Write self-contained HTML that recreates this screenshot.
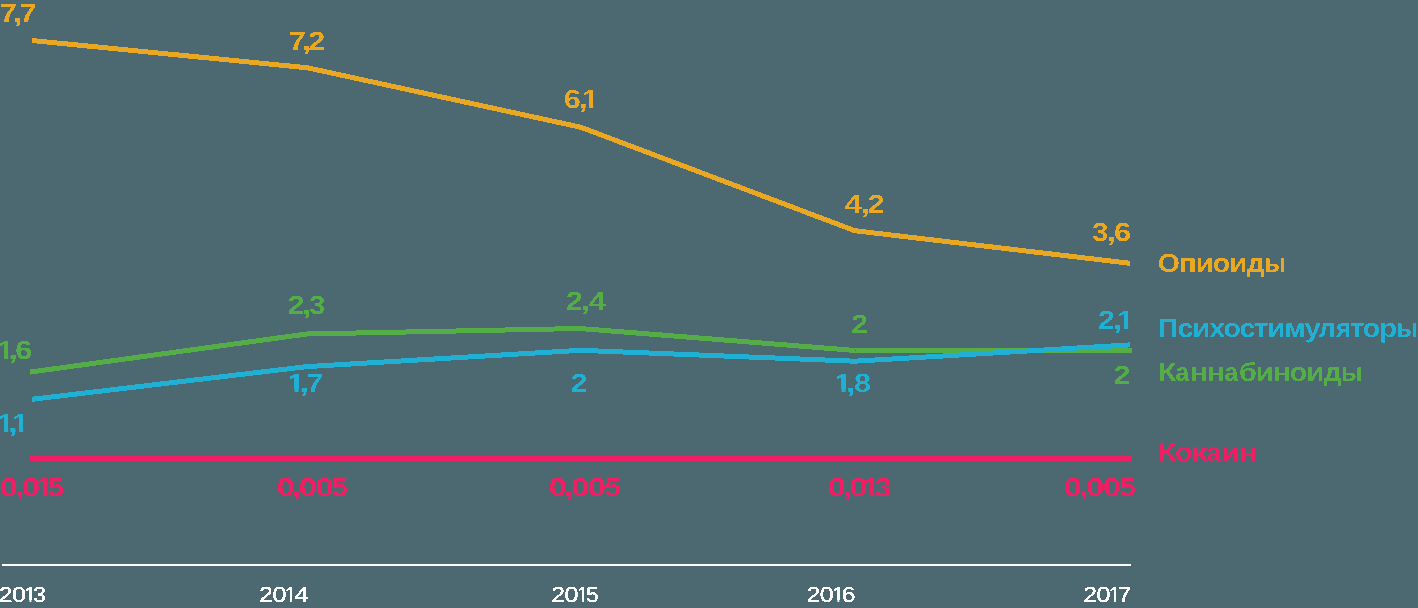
<!DOCTYPE html>
<html lang="ru"><head><meta charset="utf-8"><title>Chart</title>
<style>
html,body{margin:0;padding:0;background:#4c6971;}
body{width:1418px;height:608px;overflow:hidden;font-family:"Liberation Sans",sans-serif;}
svg{display:block;}
text{font-family:"Liberation Sans",sans-serif;text-rendering:geometricPrecision;}
</style></head><body>
<svg width="1418" height="608" viewBox="0 0 1418 608">
<defs><filter id="al" x="-5%" y="-30%" width="110%" height="160%" color-interpolation-filters="sRGB"><feComponentTransfer><feFuncA type="discrete" tableValues="0 1"/></feComponentTransfer></filter></defs>
<rect x="0" y="0" width="1418" height="608" fill="#4c6971"/>
<rect x="2" y="564" width="1129" height="2" fill="#fff"/>
<polyline points="30.0,458.4 1132.0,458.4" fill="none" stroke="#f01e63" stroke-width="5" stroke-linejoin="round" shape-rendering="crispEdges"/>
<polyline points="30.0,372.1 306.8,334.0 580.0,328.5 855.5,350.5 1132.0,350.5" fill="none" stroke="#54ad47" stroke-width="5" stroke-linejoin="round" shape-rendering="crispEdges"/>
<polyline points="32.0,399.3 307.0,366.6 580.5,350.3 855.0,361.2 1130.0,344.9" fill="none" stroke="#1fb0d3" stroke-width="5" stroke-linejoin="round" shape-rendering="crispEdges"/>
<polyline points="32.0,40.5 307.5,67.8 581.0,127.3 854.8,230.7 1130.0,263.3" fill="none" stroke="#e8a823" stroke-width="5" stroke-linejoin="round" shape-rendering="crispEdges"/>
<defs><clipPath id="c2"><path clip-rule="evenodd" d="M-20 -20H1440V640H-20ZM585.72 105.00H589.06V108.80H585.72ZM593.15 105.00H598.65V108.80H593.15Z"/></clipPath><clipPath id="c5"><path clip-rule="evenodd" d="M-20 -20H1440V640H-20ZM-1.80 356.00H4.07V359.80H-1.80ZM8.16 356.00H10.54V359.80H8.16Z"/></clipPath><clipPath id="c10"><path clip-rule="evenodd" d="M-20 -20H1440V640H-20ZM-1.80 429.00H4.07V432.80H-1.80ZM8.16 429.00H10.47V432.80H8.16ZM15.56 429.00H19.06V432.80H15.56ZM23.15 429.00H28.65V432.80H23.15Z"/></clipPath><clipPath id="c11"><path clip-rule="evenodd" d="M-20 -20H1440V640H-20ZM288.70 389.00H294.57V392.80H288.70ZM298.66 389.00H301.62V392.80H298.66Z"/></clipPath><clipPath id="c13"><path clip-rule="evenodd" d="M-20 -20H1440V640H-20ZM835.70 389.00H841.57V392.80H835.70ZM845.66 389.00H848.29V392.80H845.66Z"/></clipPath><clipPath id="c14"><path clip-rule="evenodd" d="M-20 -20H1440V640H-20ZM1120.08 326.00H1124.06V329.80H1120.08ZM1128.15 326.00H1133.65V329.80H1128.15Z"/></clipPath><clipPath id="c15"><path clip-rule="evenodd" d="M-20 -20H1440V640H-20ZM37.34 493.00H42.96V496.80H37.34ZM47.05 493.00H49.40V496.80H47.05Z"/></clipPath><clipPath id="c18"><path clip-rule="evenodd" d="M-20 -20H1440V640H-20ZM864.89 493.00H870.29V496.80H864.89ZM874.38 493.00H876.31V496.80H874.38Z"/></clipPath><clipPath id="c24"><path clip-rule="evenodd" d="M-20 -20H1440V640H-20ZM25.07 600.00H29.52V602.90H25.07ZM31.36 600.00H34.84V602.90H31.36Z"/></clipPath><clipPath id="c25"><path clip-rule="evenodd" d="M-20 -20H1440V640H-20ZM285.53 600.00H289.97V602.90H285.53ZM291.81 600.00H296.10V602.90H291.81Z"/></clipPath><clipPath id="c26"><path clip-rule="evenodd" d="M-20 -20H1440V640H-20ZM577.74 600.00H582.19V602.90H577.74ZM584.03 600.00H587.69V602.90H584.03Z"/></clipPath><clipPath id="c27"><path clip-rule="evenodd" d="M-20 -20H1440V640H-20ZM832.98 600.00H837.43V602.90H832.98ZM839.26 600.00H843.55V602.90H839.26Z"/></clipPath><clipPath id="c28"><path clip-rule="evenodd" d="M-20 -20H1440V640H-20ZM1109.63 600.00H1114.08V602.90H1109.63ZM1115.92 600.00H1120.21V602.90H1115.92Z"/></clipPath></defs>
<text y="22.00" font-size="26.15" font-weight="bold" fill="#e8a823" filter="url(#al)"><tspan x="-0.37" textLength="17.09" lengthAdjust="spacingAndGlyphs">7</tspan><tspan x="12.93" textLength="9.63" lengthAdjust="spacingAndGlyphs">,</tspan><tspan x="19.46" textLength="17.09" lengthAdjust="spacingAndGlyphs">7</tspan></text>
<text y="50.00" font-size="26.15" font-weight="bold" fill="#e8a823" filter="url(#al)"><tspan x="288.68" textLength="17.09" lengthAdjust="spacingAndGlyphs">7</tspan><tspan x="301.89" textLength="9.63" lengthAdjust="spacingAndGlyphs">,</tspan><tspan x="308.64" textLength="16.65" lengthAdjust="spacingAndGlyphs">2</tspan></text>
<text y="108.00" font-size="26.15" font-weight="bold" fill="#e8a823" clip-path="url(#c2)" filter="url(#al)"><tspan x="563.87" textLength="17.09" lengthAdjust="spacingAndGlyphs">6</tspan><tspan x="578.31" textLength="9.63" lengthAdjust="spacingAndGlyphs">,</tspan><tspan x="582.11" textLength="16.57" lengthAdjust="spacingAndGlyphs">1</tspan></text>
<text y="213.00" font-size="26.15" font-weight="bold" fill="#e8a823" filter="url(#al)"><tspan x="844.53" textLength="17.32" lengthAdjust="spacingAndGlyphs">4</tspan><tspan x="860.62" textLength="9.63" lengthAdjust="spacingAndGlyphs">,</tspan><tspan x="867.69" textLength="16.65" lengthAdjust="spacingAndGlyphs">2</tspan></text>
<text y="241.00" font-size="26.15" font-weight="bold" fill="#e8a823" filter="url(#al)"><tspan x="1092.24" textLength="16.02" lengthAdjust="spacingAndGlyphs">3</tspan><tspan x="1106.49" textLength="9.63" lengthAdjust="spacingAndGlyphs">,</tspan><tspan x="1114.02" textLength="17.09" lengthAdjust="spacingAndGlyphs">6</tspan></text>
<text y="359.00" font-size="26.15" font-weight="bold" fill="#54ad47" clip-path="url(#c5)" filter="url(#al)"><tspan x="-2.88" textLength="16.57" lengthAdjust="spacingAndGlyphs">1</tspan><tspan x="8.22" textLength="9.63" lengthAdjust="spacingAndGlyphs">,</tspan><tspan x="15.32" textLength="17.09" lengthAdjust="spacingAndGlyphs">6</tspan></text>
<text y="314.00" font-size="26.15" font-weight="bold" fill="#54ad47" filter="url(#al)"><tspan x="287.76" textLength="16.65" lengthAdjust="spacingAndGlyphs">2</tspan><tspan x="302.10" textLength="9.63" lengthAdjust="spacingAndGlyphs">,</tspan><tspan x="309.22" textLength="16.02" lengthAdjust="spacingAndGlyphs">3</tspan></text>
<text y="310.00" font-size="26.15" font-weight="bold" fill="#54ad47" filter="url(#al)"><tspan x="565.91" textLength="16.65" lengthAdjust="spacingAndGlyphs">2</tspan><tspan x="580.64" textLength="9.63" lengthAdjust="spacingAndGlyphs">,</tspan><tspan x="588.90" textLength="17.32" lengthAdjust="spacingAndGlyphs">4</tspan></text>
<text y="333.00" font-size="26.15" font-weight="bold" fill="#54ad47" filter="url(#al)"><tspan x="851.30" textLength="16.65" lengthAdjust="spacingAndGlyphs">2</tspan></text>
<text y="384.00" font-size="26.15" font-weight="bold" fill="#54ad47" filter="url(#al)"><tspan x="1113.73" textLength="16.65" lengthAdjust="spacingAndGlyphs">2</tspan></text>
<text y="432.00" font-size="26.15" font-weight="bold" fill="#1fb0d3" clip-path="url(#c10)" filter="url(#al)"><tspan x="-2.88" textLength="16.57" lengthAdjust="spacingAndGlyphs">1</tspan><tspan x="8.14" textLength="9.63" lengthAdjust="spacingAndGlyphs">,</tspan><tspan x="12.11" textLength="16.57" lengthAdjust="spacingAndGlyphs">1</tspan></text>
<text y="392.00" font-size="26.15" font-weight="bold" fill="#1fb0d3" clip-path="url(#c11)" filter="url(#al)"><tspan x="287.62" textLength="16.57" lengthAdjust="spacingAndGlyphs">1</tspan><tspan x="299.29" textLength="9.63" lengthAdjust="spacingAndGlyphs">,</tspan><tspan x="306.36" textLength="17.09" lengthAdjust="spacingAndGlyphs">7</tspan></text>
<text y="392.00" font-size="26.15" font-weight="bold" fill="#1fb0d3" filter="url(#al)"><tspan x="570.70" textLength="16.65" lengthAdjust="spacingAndGlyphs">2</tspan></text>
<text y="392.00" font-size="26.15" font-weight="bold" fill="#1fb0d3" clip-path="url(#c13)" filter="url(#al)"><tspan x="834.62" textLength="16.57" lengthAdjust="spacingAndGlyphs">1</tspan><tspan x="845.97" textLength="9.63" lengthAdjust="spacingAndGlyphs">,</tspan><tspan x="853.96" textLength="17.08" lengthAdjust="spacingAndGlyphs">8</tspan></text>
<text y="329.00" font-size="26.15" font-weight="bold" fill="#1fb0d3" clip-path="url(#c14)" filter="url(#al)"><tspan x="1097.91" textLength="16.65" lengthAdjust="spacingAndGlyphs">2</tspan><tspan x="1112.67" textLength="9.63" lengthAdjust="spacingAndGlyphs">,</tspan><tspan x="1117.11" textLength="16.57" lengthAdjust="spacingAndGlyphs">1</tspan></text>
<text y="496.00" font-size="26.15" font-weight="bold" fill="#f01e63" clip-path="url(#c15)" filter="url(#al)"><tspan x="-0.28" textLength="18.03" lengthAdjust="spacingAndGlyphs">0</tspan><tspan x="15.07" textLength="9.63" lengthAdjust="spacingAndGlyphs">,</tspan><tspan x="22.06" textLength="18.03" lengthAdjust="spacingAndGlyphs">0</tspan><tspan x="36.01" textLength="16.57" lengthAdjust="spacingAndGlyphs">1</tspan><tspan x="47.97" textLength="16.03" lengthAdjust="spacingAndGlyphs">5</tspan></text>
<text y="496.00" font-size="26.15" font-weight="bold" fill="#f01e63" filter="url(#al)"><tspan x="276.69" textLength="18.03" lengthAdjust="spacingAndGlyphs">0</tspan><tspan x="291.89" textLength="9.63" lengthAdjust="spacingAndGlyphs">,</tspan><tspan x="298.73" textLength="18.03" lengthAdjust="spacingAndGlyphs">0</tspan><tspan x="315.44" textLength="18.03" lengthAdjust="spacingAndGlyphs">0</tspan><tspan x="331.81" textLength="16.03" lengthAdjust="spacingAndGlyphs">5</tspan></text>
<text y="496.00" font-size="26.15" font-weight="bold" fill="#f01e63" filter="url(#al)"><tspan x="548.69" textLength="18.03" lengthAdjust="spacingAndGlyphs">0</tspan><tspan x="564.12" textLength="9.63" lengthAdjust="spacingAndGlyphs">,</tspan><tspan x="571.18" textLength="18.03" lengthAdjust="spacingAndGlyphs">0</tspan><tspan x="588.12" textLength="18.03" lengthAdjust="spacingAndGlyphs">0</tspan><tspan x="604.71" textLength="16.03" lengthAdjust="spacingAndGlyphs">5</tspan></text>
<text y="496.00" font-size="26.15" font-weight="bold" fill="#f01e63" clip-path="url(#c18)" filter="url(#al)"><tspan x="827.72" textLength="18.03" lengthAdjust="spacingAndGlyphs">0</tspan><tspan x="842.85" textLength="9.63" lengthAdjust="spacingAndGlyphs">,</tspan><tspan x="849.62" textLength="18.03" lengthAdjust="spacingAndGlyphs">0</tspan><tspan x="863.34" textLength="16.57" lengthAdjust="spacingAndGlyphs">1</tspan><tspan x="875.02" textLength="16.02" lengthAdjust="spacingAndGlyphs">3</tspan></text>
<text y="496.00" font-size="26.15" font-weight="bold" fill="#f01e63" filter="url(#al)"><tspan x="1063.69" textLength="18.03" lengthAdjust="spacingAndGlyphs">0</tspan><tspan x="1079.12" textLength="9.63" lengthAdjust="spacingAndGlyphs">,</tspan><tspan x="1086.18" textLength="18.03" lengthAdjust="spacingAndGlyphs">0</tspan><tspan x="1103.12" textLength="18.03" lengthAdjust="spacingAndGlyphs">0</tspan><tspan x="1119.71" textLength="16.03" lengthAdjust="spacingAndGlyphs">5</tspan></text>
<text y="271.90" font-size="26.15" font-weight="bold" fill="#e8a823" filter="url(#al)"><tspan x="1157.74" textLength="22.04" lengthAdjust="spacingAndGlyphs">О</tspan><tspan x="1178.68" textLength="17.88" lengthAdjust="spacingAndGlyphs">п</tspan><tspan x="1195.52" textLength="18.58" lengthAdjust="spacingAndGlyphs">и</tspan><tspan x="1212.88" textLength="17.42" lengthAdjust="spacingAndGlyphs">о</tspan><tspan x="1229.10" textLength="18.58" lengthAdjust="spacingAndGlyphs">и</tspan><tspan x="1246.84" textLength="17.88" lengthAdjust="spacingAndGlyphs">д</tspan><tspan x="1264.20" textLength="21.78" lengthAdjust="spacingAndGlyphs">ы</tspan></text>
<text y="336.80" font-size="26.15" font-weight="bold" fill="#1fb0d3" filter="url(#al)"><tspan x="1158.12" textLength="20.15" lengthAdjust="spacingAndGlyphs">П</tspan><tspan x="1177.54" textLength="15.85" lengthAdjust="spacingAndGlyphs">с</tspan><tspan x="1192.12" textLength="18.58" lengthAdjust="spacingAndGlyphs">и</tspan><tspan x="1209.64" textLength="15.48" lengthAdjust="spacingAndGlyphs">х</tspan><tspan x="1223.49" textLength="17.42" lengthAdjust="spacingAndGlyphs">о</tspan><tspan x="1239.52" textLength="15.85" lengthAdjust="spacingAndGlyphs">с</tspan><tspan x="1253.56" textLength="15.07" lengthAdjust="spacingAndGlyphs">т</tspan><tspan x="1267.03" textLength="18.58" lengthAdjust="spacingAndGlyphs">и</tspan><tspan x="1284.60" textLength="21.10" lengthAdjust="spacingAndGlyphs">м</tspan><tspan x="1304.55" textLength="16.22" lengthAdjust="spacingAndGlyphs">у</tspan><tspan x="1318.76" textLength="17.17" lengthAdjust="spacingAndGlyphs">л</tspan><tspan x="1336.00" textLength="15.22" lengthAdjust="spacingAndGlyphs">я</tspan><tspan x="1349.89" textLength="15.07" lengthAdjust="spacingAndGlyphs">т</tspan><tspan x="1362.65" textLength="17.42" lengthAdjust="spacingAndGlyphs">о</tspan><tspan x="1378.93" textLength="18.26" lengthAdjust="spacingAndGlyphs">р</tspan><tspan x="1396.20" textLength="21.78" lengthAdjust="spacingAndGlyphs">ы</tspan></text>
<text y="380.75" font-size="26.15" font-weight="bold" fill="#54ad47" filter="url(#al)"><tspan x="1157.98" textLength="18.39" lengthAdjust="spacingAndGlyphs">К</tspan><tspan x="1175.57" textLength="13.70" lengthAdjust="spacingAndGlyphs">а</tspan><tspan x="1190.04" textLength="18.22" lengthAdjust="spacingAndGlyphs">н</tspan><tspan x="1207.10" textLength="18.22" lengthAdjust="spacingAndGlyphs">н</tspan><tspan x="1224.44" textLength="13.70" lengthAdjust="spacingAndGlyphs">а</tspan><tspan x="1238.95" textLength="17.78" lengthAdjust="spacingAndGlyphs">б</tspan><tspan x="1255.44" textLength="18.58" lengthAdjust="spacingAndGlyphs">и</tspan><tspan x="1272.91" textLength="18.22" lengthAdjust="spacingAndGlyphs">н</tspan><tspan x="1289.83" textLength="17.42" lengthAdjust="spacingAndGlyphs">о</tspan><tspan x="1306.02" textLength="18.58" lengthAdjust="spacingAndGlyphs">и</tspan><tspan x="1323.72" textLength="17.88" lengthAdjust="spacingAndGlyphs">д</tspan><tspan x="1341.05" textLength="21.78" lengthAdjust="spacingAndGlyphs">ы</tspan></text>
<text y="460.80" font-size="26.15" font-weight="bold" fill="#f01e63" filter="url(#al)"><tspan x="1157.98" textLength="18.39" lengthAdjust="spacingAndGlyphs">К</tspan><tspan x="1174.90" textLength="17.42" lengthAdjust="spacingAndGlyphs">о</tspan><tspan x="1190.90" textLength="16.84" lengthAdjust="spacingAndGlyphs">к</tspan><tspan x="1206.93" textLength="13.70" lengthAdjust="spacingAndGlyphs">а</tspan><tspan x="1221.47" textLength="18.58" lengthAdjust="spacingAndGlyphs">и</tspan><tspan x="1238.99" textLength="18.22" lengthAdjust="spacingAndGlyphs">н</tspan></text>
<text y="602.10" font-size="21.77" font-weight="normal" fill="#ffffff" stroke="#fff" stroke-width="0.3" stroke-linejoin="round" clip-path="url(#c24)" filter="url(#al)"><tspan x="-1.12" textLength="13.38" lengthAdjust="spacingAndGlyphs">2</tspan><tspan x="12.00" textLength="13.92" lengthAdjust="spacingAndGlyphs">0</tspan><tspan x="24.28" textLength="11.58" lengthAdjust="spacingAndGlyphs">1</tspan><tspan x="33.20" textLength="12.70" lengthAdjust="spacingAndGlyphs">3</tspan></text>
<text y="602.10" font-size="21.77" font-weight="normal" fill="#ffffff" stroke="#fff" stroke-width="0.3" stroke-linejoin="round" clip-path="url(#c25)" filter="url(#al)"><tspan x="259.39" textLength="13.38" lengthAdjust="spacingAndGlyphs">2</tspan><tspan x="272.49" textLength="13.92" lengthAdjust="spacingAndGlyphs">0</tspan><tspan x="284.74" textLength="11.58" lengthAdjust="spacingAndGlyphs">1</tspan><tspan x="294.57" textLength="14.34" lengthAdjust="spacingAndGlyphs">4</tspan></text>
<text y="602.10" font-size="21.77" font-weight="normal" fill="#ffffff" stroke="#fff" stroke-width="0.3" stroke-linejoin="round" clip-path="url(#c26)" filter="url(#al)"><tspan x="551.49" textLength="13.38" lengthAdjust="spacingAndGlyphs">2</tspan><tspan x="564.64" textLength="13.92" lengthAdjust="spacingAndGlyphs">0</tspan><tspan x="576.95" textLength="11.58" lengthAdjust="spacingAndGlyphs">1</tspan><tspan x="586.13" textLength="12.68" lengthAdjust="spacingAndGlyphs">5</tspan></text>
<text y="602.10" font-size="21.77" font-weight="normal" fill="#ffffff" stroke="#fff" stroke-width="0.3" stroke-linejoin="round" clip-path="url(#c27)" filter="url(#al)"><tspan x="806.69" textLength="13.38" lengthAdjust="spacingAndGlyphs">2</tspan><tspan x="819.86" textLength="13.92" lengthAdjust="spacingAndGlyphs">0</tspan><tspan x="832.19" textLength="11.58" lengthAdjust="spacingAndGlyphs">1</tspan><tspan x="841.70" textLength="13.57" lengthAdjust="spacingAndGlyphs">6</tspan></text>
<text y="602.10" font-size="21.77" font-weight="normal" fill="#ffffff" stroke="#fff" stroke-width="0.3" stroke-linejoin="round" clip-path="url(#c28)" filter="url(#al)"><tspan x="1083.49" textLength="13.38" lengthAdjust="spacingAndGlyphs">2</tspan><tspan x="1096.59" textLength="13.92" lengthAdjust="spacingAndGlyphs">0</tspan><tspan x="1108.85" textLength="11.58" lengthAdjust="spacingAndGlyphs">1</tspan><tspan x="1117.86" textLength="13.46" lengthAdjust="spacingAndGlyphs">7</tspan></text>
</svg>
</body></html>
